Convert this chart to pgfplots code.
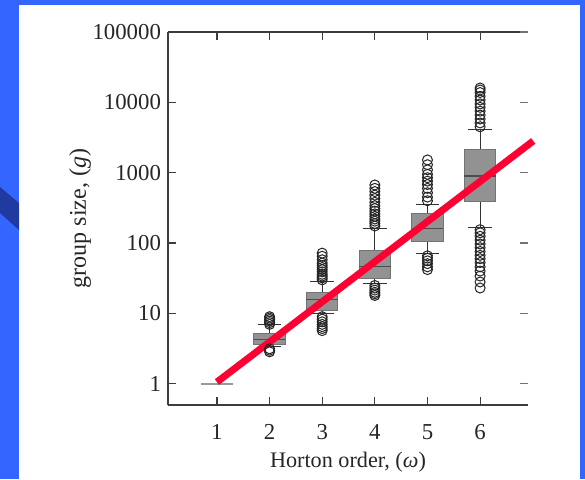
\documentclass[border=0pt]{standalone}
\usepackage{pgfplots}
\pgfplotsset{compat=1.18}
\usepackage{fontspec}
\setmainfont{Liberation Serif}
\definecolor{bgblue}{RGB}{51,102,255}
\definecolor{darkblue}{RGB}{32,58,160}
\definecolor{redline}{RGB}{255,0,51}
\definecolor{boxgray}{RGB}{146,146,146}
\definecolor{axgray}{RGB}{60,60,60}
\pgfplotsset{
  boxst/.style={fill=boxgray, draw=black!55, line width=0.5pt, no marks},
  medst/.style={draw=black!70, line width=0.6pt, no marks},
  whst/.style={draw=black!80, line width=0.5pt, no marks},
  outst/.style={only marks, mark=o, mark size=2.5pt, mark options={draw=black!85, line width=0.5pt}},
}
\begin{document}
\begin{tikzpicture}
\fill[bgblue] (0,0) rectangle (292.5pt,239.5pt);
\fill[white] (9.5pt,0) rectangle (290pt,237pt);
\fill[darkblue] (0,146pt) -- (9.5pt,138pt) -- (9.5pt,124.5pt) -- (0,133pt) -- cycle;
\begin{axis}[
  scale only axis, width=180pt, height=186.5pt,
  at={(84pt,37pt)}, anchor=south west,
  xmin=0.07, xmax=6.91, ymode=log, ymin=0.5, ymax=100000,
  xtick={1,2,3,4,5,6}, xticklabels={1,2,3,4,5,6},
  ytick={1,10,100,1000,10000,100000},
  yticklabels={1,10,100,1000,10000,100000},
  yminorticks=false, tick align=inside, major tick length=4pt,
  every tick label/.append style={font=\fontsize{11.4}{13}\selectfont, text=black!85},
  xticklabel style={yshift=-6pt},
  label style={text=black!85},
  xlabel style={font=\fontsize{11.1}{13}\selectfont, at={(axis description cs:0.5,-0.153)}, anchor=center},
  ylabel style={font=\fontsize{12}{14}\selectfont, at={(axis description cs:-0.244,0.5)}, anchor=center},
  axis x line*=box, axis y line*=left, clip=false,
  axis line style={axgray, line width=0.8pt},
  tick style={axgray, line width=0.6pt},
  xlabel={Horton order, (\textit{ω})},
  ylabel={group size, (\textit{g})},
  ]
% order 1
\addplot[draw=black!40, line width=1pt, no marks] coordinates {(0.7,1) (1.3,1)};
% order 2
\addplot[whst] coordinates {(2,5.25) (2,6.89)};
\addplot[whst] coordinates {(2,3.66) (2,3.39)};
\addplot[whst] coordinates {(1.775,6.89) (2.225,6.89)};
\addplot[whst] coordinates {(1.775,3.39) (2.225,3.39)};
\addplot[boxst] coordinates {(1.7,3.66) (2.3,3.66) (2.3,5.25) (1.7,5.25)} --cycle;
\addplot[medst] coordinates {(1.7,4.31) (2.3,4.31)};
\addplot[outst] coordinates {(2,7.0) (2,7.4) (2,7.8) (2,8.2) (2,8.6) (2,9.0) (2,3.15) (2,3.0) (2,2.85)};
% order 3
\addplot[whst] coordinates {(3,20.1) (3,28.4)};
\addplot[whst] coordinates {(3,11.0) (3,10.1)};
\addplot[whst] coordinates {(2.775,28.4) (3.225,28.4)};
\addplot[whst] coordinates {(2.775,10.1) (3.225,10.1)};
\addplot[boxst] coordinates {(2.7,11.0) (3.3,11.0) (3.3,20.1) (2.7,20.1)} --cycle;
\addplot[medst] coordinates {(2.7,15.6) (3.3,15.6)};
\addplot[outst] coordinates {(3,30) (3,32) (3,34) (3,36) (3,39) (3,42) (3,45) (3,48) (3,52) (3,58) (3,65) (3,72) (3,9.0) (3,8.3) (3,7.6) (3,7.0) (3,6.5) (3,6.1) (3,5.7)};
% order 4
\addplot[whst] coordinates {(4,77.5) (4,163)};
\addplot[whst] coordinates {(4,31.7) (4,26.9)};
\addplot[whst] coordinates {(3.775,163) (4.225,163)};
\addplot[whst] coordinates {(3.775,26.9) (4.225,26.9)};
\addplot[boxst] coordinates {(3.7,31.7) (4.3,31.7) (4.3,77.5) (3.7,77.5)} --cycle;
\addplot[medst] coordinates {(3.7,46.4) (4.3,46.4)};
\addplot[outst] coordinates {(4,175) (4,190) (4,205) (4,220) (4,240) (4,260) (4,285) (4,310) (4,340) (4,380) (4,430) (4,480) (4,540) (4,600) (4,670) (4,25) (4,23) (4,21.5) (4,20) (4,19) (4,18)};
% order 5
\addplot[whst] coordinates {(5,266) (5,349)};
\addplot[whst] coordinates {(5,105) (5,71.9)};
\addplot[whst] coordinates {(4.775,349) (5.225,349)};
\addplot[whst] coordinates {(4.775,71.9) (5.225,71.9)};
\addplot[boxst] coordinates {(4.7,105) (5.3,105) (5.3,266) (4.7,266)} --cycle;
\addplot[medst] coordinates {(4.7,163) (5.3,163)};
\addplot[outst] coordinates {(5,400) (5,450) (5,520) (5,600) (5,680) (5,760) (5,850) (5,950) (5,1100) (5,1300) (5,1520) (5,66) (5,61) (5,56) (5,51) (5,46) (5,42)};
% order 6
\addplot[whst] coordinates {(6,2108) (6,4055)};
\addplot[whst] coordinates {(6,389) (6,166)};
\addplot[whst] coordinates {(5.775,4055) (6.225,4055)};
\addplot[whst] coordinates {(5.775,166) (6.225,166)};
\addplot[boxst] coordinates {(5.7,389) (6.3,389) (6.3,2108) (5.7,2108)} --cycle;
\addplot[medst] coordinates {(5.7,901) (6.3,901)};
\addplot[outst] coordinates {(6,4500) (6,5100) (6,5800) (6,6600) (6,7500) (6,8500) (6,9500) (6,10800) (6,12200) (6,13800) (6,15000) (6,16000) (6,155) (6,140) (6,125) (6,110) (6,97) (6,86) (6,76) (6,67) (6,60) (6,53) (6,46) (6,40) (6,34) (6,28) (6,23)};
% fitted line
\addplot[redline, line width=3.5pt, no marks] coordinates {(1,1.06) (7.01,2830)};
\end{axis}
\begin{axis}[
  scale only axis, width=180pt, height=186.5pt,
  at={(84pt,37pt)}, anchor=south west,
  xmin=0.07, xmax=6.91, ymode=log, ymin=0.5, ymax=100000,
  xtick={1,2,3,4,5,6}, xticklabels={},
  ytick={1,10,100,1000,10000,100000}, yticklabels={},
  yminorticks=false, tick align=inside, major tick length=4pt,
  xtick pos=upper, ytick pos=right,
  axis line style={draw=none},
  xtick style={draw=axgray, line width=0.6pt},
  ytick style={draw=black!55, line width=0.6pt},
  ]
\addplot[draw=none, forget plot] coordinates {(1,1)};
\end{axis}
\pgfresetboundingbox
\path[use as bounding box] (0,0) rectangle (292.5pt,239.5pt);
\end{tikzpicture}
\end{document}
